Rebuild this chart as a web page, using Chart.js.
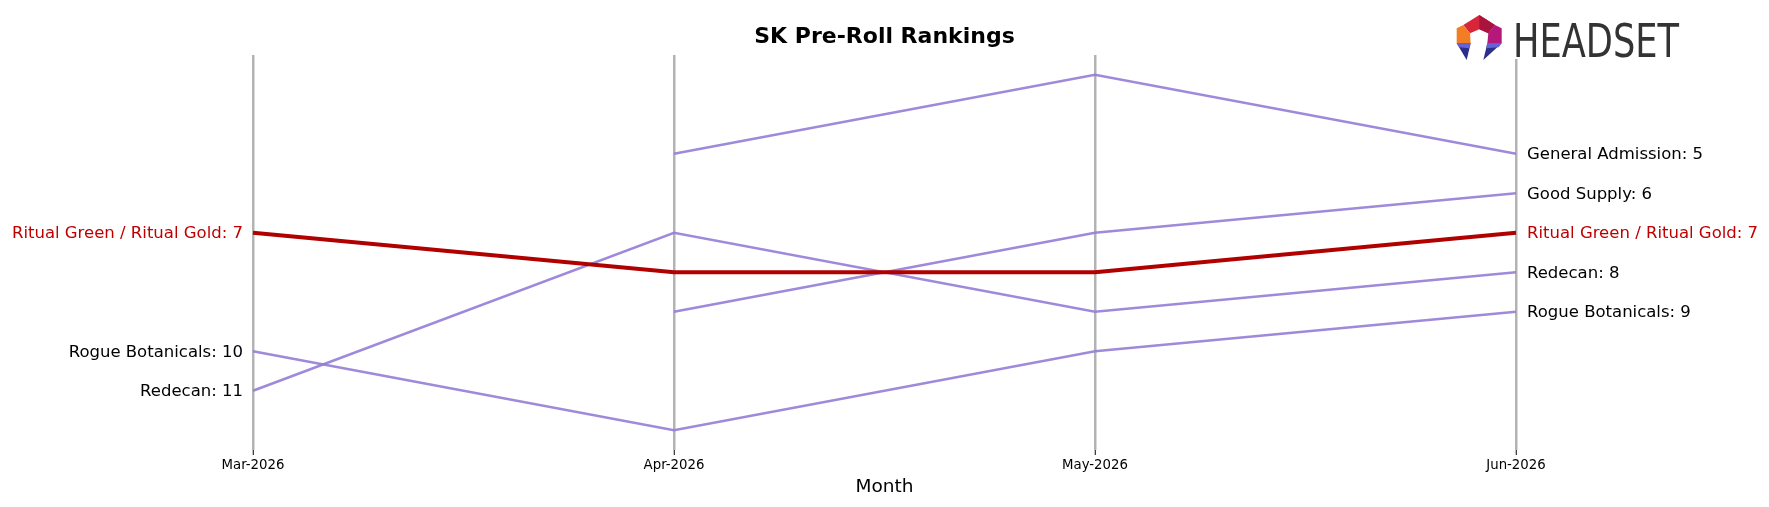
<!DOCTYPE html>
<html>
<head>
<meta charset="utf-8">
<script src="https://cdn.jsdelivr.net/npm/chart.js@4"></script>
<style>
  body { margin: 0; background: #fff; }
  #wrap { width: 1769px; height: 507px; position: relative; }
</style>
</head>
<body>
<div id="wrap"><canvas id="rankChart"></canvas></div>
<script>
// data
var months = ["Mar-2026", "Apr-2026", "May-2026", "Jun-2026"];
var ritualRanks = [7, 8, 8, 7];
var generalAdmissionRanks = [null, 5, 3, 5];
var goodSupplyRanks = [null, 9, 7, 6];
var redecanRanks = [11, 7, 9, 8];
var rogueRanks = [10, 12, 10, 9];

var FONT = "'DejaVu Sans', sans-serif";
var PURPLE = "rgba(147, 124, 215, 0.9)";
var RED = "#b00000";

function line(label, data, highlight) {
  return {
    label: label,
    data: data,
    borderColor: highlight ? RED : PURPLE,
    borderWidth: highlight ? 4 : 2.5,
    pointRadius: 0,
    tension: 0,
    fill: false,
    order: highlight ? 0 : 1
  };
}

// logo shapes, in 3x local units, offset to the top right corner
function drawLogo(ctx) {
  function poly(pts, col) {
    ctx.beginPath();
    pts.forEach(function (p, i) {
      var px = 1450 + p[0] / 3, py = 10 + p[1] / 3;
      if (i === 0) ctx.moveTo(px, py); else ctx.lineTo(px, py);
    });
    ctx.closePath();
    ctx.fillStyle = col;
    ctx.fill();
  }
  ctx.fillStyle = "#fff";
  ctx.fillRect(1452, 12, 235, 47);
  poly([[88, 15], [135, 45], [115, 70], [88, 58], [60, 70], [40, 45]], "#d8253a");
  poly([[88, 15], [135, 45], [115, 70], [88, 58]], "#a9133e");
  poly([[40, 45], [60, 70], [62, 100], [20, 100], [20, 55]], "#f27d22");
  poly([[135, 45], [155, 55], [155, 100], [112, 100], [115, 70]], "#b5187a");
  poly([[20, 100], [62, 100], [50, 150]], "#2c2e8a");
  poly([[20, 100], [62, 100], [57, 115], [28, 112]], "#6462d8");
  poly([[112, 100], [155, 100], [100, 150]], "#2c2e8a");
  poly([[112, 100], [155, 100], [146, 112], [108, 115]], "#6462d8");

  ctx.fillStyle = "#333";
  ctx.font = "46px " + FONT;
  ctx.textAlign = "left";
  ctx.textBaseline = "alphabetic";
  var w = ctx.measureText("HEADSET").width;
  ctx.save();
  ctx.translate(1513, 56.5);
  ctx.scale(166 / w, 1);
  ctx.fillText("HEADSET", 0, 0);
  ctx.restore();
}

// title, end labels, axis title and logo
var decorations = {
  id: "decorations",
  afterDatasetsDraw: function (chart) {
    var ctx = chart.ctx;
    var x = chart.scales.x, y = chart.scales.y;
    var area = chart.chartArea;
    ctx.save();

    ctx.fillStyle = "#000";
    ctx.font = "bold 22px " + FONT;
    ctx.textAlign = "center";
    ctx.textBaseline = "middle";
    ctx.fillText("SK Pre-Roll Rankings", (area.left + area.right) / 2, 37);

    ctx.font = "18.5px " + FONT;
    ctx.fillText("Month", (area.left + area.right) / 2, 487);

    ctx.font = "16.5px " + FONT;
    chart.data.datasets.forEach(function (ds) {
      ctx.fillStyle = ds.borderColor === RED ? "#c00000" : "#000";
      var first = ds.data[0];
      if (first !== null) {
        ctx.textAlign = "right";
        ctx.fillText(ds.label + ": " + first, x.getPixelForValue(0) - 10, y.getPixelForValue(first) + 1);
      }
      var last = ds.data[ds.data.length - 1];
      if (last !== null) {
        ctx.textAlign = "left";
        ctx.fillText(ds.label + ": " + last, x.getPixelForValue(ds.data.length - 1) + 11, y.getPixelForValue(last) + 1);
      }
    });

    drawLogo(ctx);
    ctx.restore();
  }
};

var ctxL = document.getElementById("rankChart").getContext("2d");
var rankChart = new Chart(ctxL, {
  type: "line",
  data: {
    labels: months,
    datasets: [
      line("General Admission", generalAdmissionRanks, false),
      line("Good Supply", goodSupplyRanks, false),
      line("Ritual Green / Ritual Gold", ritualRanks, true),
      line("Redecan", redecanRanks, false),
      line("Rogue Botanicals", rogueRanks, false)
    ]
  },
  options: {
    responsive: true,
    maintainAspectRatio: false,
    animation: false,
    layout: { padding: { left: 253, right: 253, top: 55, bottom: 0 } },
    plugins: { legend: { display: false }, title: { display: false }, tooltip: { enabled: false } },
    scales: {
      x: {
        offset: false,
        afterFit: function (s) { s.height = 57; },
        border: { display: false },
        grid: { color: "#b3b3b3", lineWidth: 2.5, tickColor: "#000", tickLength: 5, tickWidth: 1 },
        ticks: { color: "#000", padding: 3, maxRotation: 0, font: { family: FONT, size: 13.3 } }
      },
      y: {
        display: false,
        reverse: true,
        min: 2.5,
        max: 12.5
      }
    }
  },
  plugins: [decorations]
});
</script>
</body>
</html>
